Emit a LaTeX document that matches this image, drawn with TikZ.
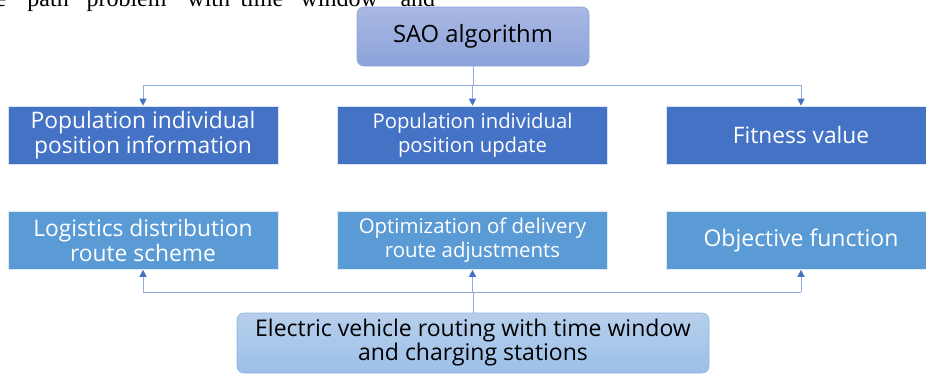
\documentclass[tikz,border=0pt]{standalone}
\usepackage{fontspec}
\setmainfont{Open Sans}
\newfontfamily\bodyserif{Liberation Serif}
\usetikzlibrary{arrows.meta}
\definecolor{darkbox}{HTML}{4472C4}
\definecolor{lightbox}{HTML}{5B9BD5}
\definecolor{linkblue}{HTML}{8FAADC}
\definecolor{sedge}{HTML}{8EA3D8}
\definecolor{stop}{HTML}{A9B8E3}
\definecolor{sbot}{HTML}{8CA3DA}
\definecolor{redge}{HTML}{8DB3DF}
\definecolor{rtop}{HTML}{B6CFEC}
\definecolor{rbot}{HTML}{9CC0E7}
\newcommand{\wordat}[2]{\rlap{#1}\kern#2pt}
\begin{document}
\begin{tikzpicture}[
    x=1pt, y=1pt,
    stage/.style={rectangle, fill=darkbox, draw=white!80!darkbox, line width=0.6pt, minimum width=270pt, minimum height=58pt, text=white, align=center, inner sep=0pt},
    result/.style={stage, fill=lightbox, draw=white!80!lightbox},
    head/.style={rectangle, rounded corners=7pt, draw=sedge, line width=0.6pt, top color=stop, bottom color=sbot, minimum width=232pt, minimum height=59pt, align=center, font=\fontsize{23.8}{25}\selectfont},
    link/.style={draw=linkblue, line width=0.9pt},
    msg/.style={link, -{Triangle[length=7pt, width=7pt, color=darkbox]}}
  ]
    \clip (0,0) rectangle (926,-373);
    % cut-off body text line
    \node[anchor=base west, inner sep=0pt, font=\bodyserif\fontsize{24}{24}\selectfont] (body) at (-4.7,-6.5)
      {\wordat{e}{32}\wordat{path}{59}\wordat{problem}{101}\wordat{with}{53}\wordat{time}{60}\wordat{window}{100}and};
    \node[head] (sao) at (473,-36.5) {SAO algorithm};
    \node[stage, font=\fontsize{22.8}{25}\selectfont] (posinfo) at (143,-135) {Population individual\\position information};
    \node[stage, font=\fontsize{20.3}{24}\selectfont] (posupd) at (472.5,-135) {Population individual\\position update};
    \node[stage, font=\fontsize{22.7}{25}\selectfont] (fit) at (801,-135) {Fitness value};
    \node[result, font=\fontsize{22.8}{25}\selectfont] (scheme) at (143,-240.5) {Logistics distribution\\route scheme};
    \node[result, font=\fontsize{20.4}{24}\selectfont] (adjust) at (472.5,-240.5) {Optimization of delivery\\route adjustments};
    \node[result, font=\fontsize{23}{25}\selectfont] (obj) at (801,-240.5) {Objective function};
    \node[head, draw=redge, top color=rtop, bottom color=rbot, minimum width=472pt, minimum height=60pt, font=\fontsize{23}{24}\selectfont] (evrp) at (473,-343) {Electric vehicle routing with time window\\and charging stations};
    \coordinate (topbus) at (473,-85);
    \coordinate (botbus) at (473,-292);
    \draw[link] (sao.south) -- (topbus);
    \draw[link] (posinfo.north |- topbus) -- (fit.north |- topbus);
    \foreach \n in {posinfo,posupd,fit} {
      \draw[msg] (\n.north |- topbus) -- (\n.north);
    }
    \draw[link] (scheme.south |- botbus) -- (obj.south |- botbus);
    \draw[link] (evrp.north) -- (botbus);
    \foreach \n in {scheme,adjust,obj} {
      \draw[msg] (\n.south |- botbus) -- (\n.south);
    }
  \end{tikzpicture}
\end{document}
